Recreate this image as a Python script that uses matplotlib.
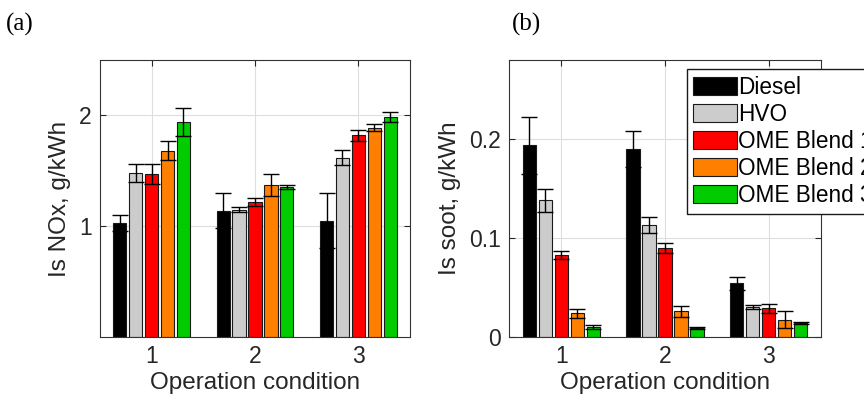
import numpy as np
import matplotlib
matplotlib.use('Agg')
import matplotlib.pyplot as plt

conditions = [1, 2, 3]
fuels = ['Diesel', 'HVO', 'OME Blend 1', 'OME Blend 2', 'OME Blend 3']
colors = ['#000000', '#cccccc', '#ff0000', '#ff8000', '#00cc00']

# Is NOx, g/kWh  (rows: fuels, cols: operation condition)
nox = [[1.03, 1.14, 1.05],
       [1.48, 1.15, 1.62],
       [1.47, 1.22, 1.82],
       [1.68, 1.375, 1.89],
       [1.94, 1.355, 1.985]]
nox_err = [[0.075, 0.16, 0.25],
           [0.085, 0.02, 0.07],
           [0.09, 0.035, 0.05],
           [0.085, 0.10, 0.03],
           [0.13, 0.015, 0.045]]

# Is soot, g/kWh
soot = [[0.1936, 0.190, 0.0542],
        [0.138, 0.113, 0.0305],
        [0.0827, 0.0898, 0.029],
        [0.024, 0.026, 0.0176],
        [0.0102, 0.0092, 0.0142]]
soot_err = [[0.029, 0.018, 0.0065],
            [0.012, 0.008, 0.0017],
            [0.004, 0.005, 0.0043],
            [0.0045, 0.0055, 0.0085],
            [0.002, 0.001, 0.0007]]

plt.rcParams['font.family'] = ['Liberation Sans', 'DejaVu Sans']
txt = '#262626'

fig = plt.figure(figsize=(8.64, 4.05), dpi=100)
ax1 = fig.add_axes([100/864, 1-337/405, 310/864, 277/405])
ax2 = fig.add_axes([509.3/864, 1-337/405, 311.4/864, 277/405])

x = np.array(conditions, dtype=float)
w = 0.128
step = 0.154


def draw(ax, vals, errs, ylim, yticks, ylabel):
    for i in range(len(fuels)):
        pos = x + (i - 2) * step
        ax.bar(pos, vals[i], width=w, color=colors[i], edgecolor='#1a1a1a',
               linewidth=0.8, label=fuels[i], zorder=2)
        ax.errorbar(pos, vals[i], yerr=errs[i], fmt='none', ecolor='#000000',
                    elinewidth=1.0, capsize=5.5, capthick=1.0, zorder=3)
    ax.set_xlim(0.5, 3.5)
    ax.set_ylim(*ylim)
    ax.set_xticks(conditions)
    ax.set_yticks(yticks)
    ax.set_yticklabels([('%g' % t) for t in yticks])
    ax.grid(True, color='#dedede', linewidth=0.8, zorder=0)
    ax.set_axisbelow(True)
    ax.tick_params(direction='in', top=True, right=True, length=4,
                   labelsize=16.5, colors=txt, pad=6)
    for s in ax.spines.values():
        s.set_color('#333333')
        s.set_linewidth(0.8)
    ax.set_xlabel('Operation condition', fontsize=17.5, color=txt, labelpad=3)
    ax.set_ylabel(ylabel, fontsize=17.5, color=txt, labelpad=6)


draw(ax1, nox, nox_err, (0, 2.5), [1, 2], 'Is NOx, g/kWh')
draw(ax2, soot, soot_err, (0, 0.28), [0, 0.1, 0.2], 'Is soot, g/kWh')

# legend runs off the right edge of the figure, as in the original
leg = ax2.legend(loc='upper left', bbox_to_anchor=(686.7/864, 1-69/405),
                 bbox_transform=fig.transFigure, fontsize=16.3, frameon=True,
                 fancybox=False, framealpha=1, edgecolor='#1a1a1a',
                 handlelength=1.9, handleheight=0.85, handletextpad=0.05,
                 labelspacing=0.18, borderpad=0.3, borderaxespad=0)
leg.get_frame().set_linewidth(1.0)
for t in leg.get_texts():
    t.set_color('#000000')

fig.text(6/864, 1-24/405, '(a)', fontsize=18, family='Liberation Serif',
         va='center', ha='left')
fig.text(512/864, 1-24/405, '(b)', fontsize=18, family='Liberation Serif',
         va='center', ha='left')

fig.savefig('out.png', dpi=100)
